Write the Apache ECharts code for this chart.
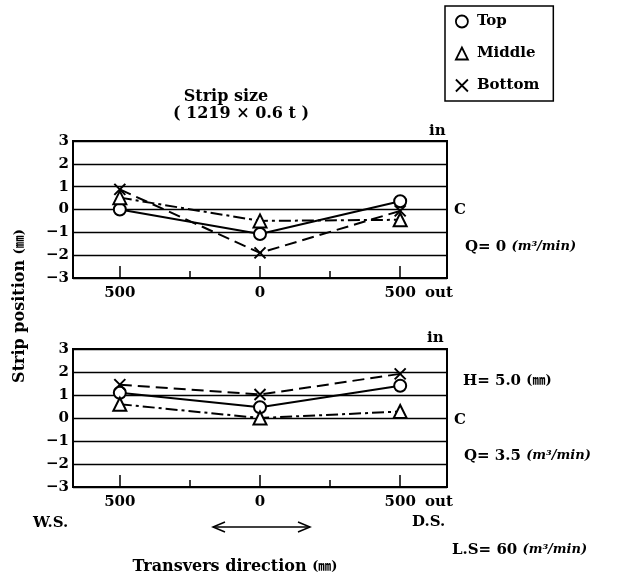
<!DOCTYPE html>
<html>
<head>
<meta charset="utf-8">
<script src="https://cdn.jsdelivr.net/npm/echarts@6/dist/echarts.min.js"></script>
<style>html,body{margin:0;padding:0;background:#fff;}#c{width:617px;height:576px;}</style>
</head>
<body>
<div id="c"></div>
<script>
// ---- data ----
const xPositions = [-500, 0, 500];          // transverse position (mm), W.S. negative
const xTickLabels = ['500', '0', '500'];
const minorTicks = [-250, 250];
const seriesNames = ['Top', 'Middle', 'Bottom'];
// Q = 0 (upper panel)
const topQ0 = [0.0, -1.07, 0.36];
const middleQ0 = [0.52, -0.5, -0.45];
const bottomQ0 = [0.88, -1.9, -0.06];
// Q = 3.5 (lower panel)
const topQ35 = [1.1, 0.47, 1.4];
const middleQ35 = [0.6, 0.0, 0.28];
const bottomQ35 = [1.45, 1.02, 1.92];

const FONT = '"DejaVu Serif", "Liberation Serif", serif';
const CJK = '"DejaVu Serif", "Noto Sans CJK JP", serif';
const crossPath = 'path://M0,0L10,10M10,0L0,10';

function pts(arr) { return xPositions.map((x, i) => [x, arr[i]]); }

const grids = [
  {left: 73, top: 141, width: 374, height: 137},
  {left: 73, top: 349, width: 374, height: 138}
];

const xAxes = [];
const yAxes = [];
grids.forEach((g, gi) => {
  xAxes.push({
    type: 'value', gridIndex: gi, min: -667, max: 667, position: 'bottom',
    axisLine: {show: false, onZero: false}, splitLine: {show: false},
    axisTick: {show: true, inside: true, length: 12, customValues: xPositions, lineStyle: {color: '#000', width: 1.5}},
    axisLabel: {show: true, customValues: xPositions, margin: 8, color: '#000',
      fontFamily: FONT, fontWeight: 'bold', fontSize: 15,
      formatter: function (v) { const i = xPositions.indexOf(v); return i >= 0 ? xTickLabels[i] : ''; }}
  });
  xAxes.push({
    type: 'value', gridIndex: gi, min: -667, max: 667, position: 'bottom',
    axisLine: {show: false, onZero: false}, splitLine: {show: false},
    axisTick: {show: true, inside: true, length: 7, customValues: minorTicks, lineStyle: {color: '#000', width: 1.5}},
    axisLabel: {show: false}
  });
  yAxes.push({
    type: 'value', gridIndex: gi, min: -3, max: 3, interval: 1,
    axisLine: {show: false, onZero: false}, axisTick: {show: false},
    splitLine: {show: true, lineStyle: {color: '#000', width: 1.3}},
    axisLabel: {margin: 4, color: '#000', fontFamily: FONT, fontWeight: 'bold', fontSize: 15,
      formatter: function (v) { return v < 0 ? '\u2212' + Math.abs(v) : String(v); }}
  });
});

function makeSeries(gi, data) {
  const styles = [
    {symbol: 'circle', lineType: 'solid'},
    {symbol: 'triangle', lineType: [12, 4, 3, 4]},
    {symbol: crossPath, lineType: [12, 6]}
  ];
  return data.map((arr, k) => ({
    name: seriesNames[k], type: 'line',
    xAxisIndex: gi * 2, yAxisIndex: gi,
    data: pts(arr),
    symbol: styles[k].symbol,
    symbolSize: k === 2 ? 11 : (k === 1 ? 13 : 12),
    showSymbol: true,
    lineStyle: {color: '#000', width: 2, type: styles[k].lineType},
    itemStyle: {color: k === 2 ? 'rgba(0,0,0,0)' : '#fff', borderColor: '#000', borderWidth: 2},
    z: 3 + k,
    animation: false
  }));
}

const series = [].concat(
  makeSeries(0, [topQ0, middleQ0, bottomQ0]),
  makeSeries(1, [topQ35, middleQ35, bottomQ35])
);

function txt(x, y, text, opts) {
  opts = opts || {};
  return {
    type: 'text', x: x, y: y, rotation: opts.rotation || 0, z: 10,
    style: {
      text: text, fill: '#000',
      font: opts.font || ('bold 15px ' + FONT),
      textAlign: opts.align || 'left', textVerticalAlign: 'middle'
    }
  };
}

const richUnits = {
  b: {fontFamily: FONT, fontWeight: 'bold', fontSize: 15, fill: '#000'},
  t: {fontFamily: FONT, fontWeight: 'bold', fontSize: 16, fill: '#000'},
  i: {fontFamily: FONT, fontWeight: 'bold', fontStyle: 'italic', fontSize: 13, fill: '#000'},
  u: {fontFamily: CJK, fontWeight: 'bold', fontSize: 13, fill: '#000'}
};

const graphics = [
  txt(226, 97, 'Strip size', {align: 'center', font: 'bold 16px ' + FONT}),
  txt(241, 114, '( 1219 \u00d7 0.6 t )', {align: 'center', font: 'bold 16px ' + FONT}),
  txt(429, 131, 'in'),
  txt(425, 293, 'out'),
  txt(427, 338, 'in'),
  txt(425, 502, 'out'),
  txt(454, 210, 'C'),
  txt(454, 420, 'C'),
  {type: 'text', x: 465, y: 247, z: 10, style: {text: '{b|Q= 0 }{i|(m\u00b3/min)}', textVerticalAlign: 'middle', rich: richUnits}},
  {type: 'text', x: 463, y: 381, z: 10, style: {text: '{b|H= 5.0 }{u|(\u339c)}', textVerticalAlign: 'middle', rich: richUnits}},
  {type: 'text', x: 464, y: 456, z: 10, style: {text: '{b|Q= 3.5 }{i|(m\u00b3/min)}', textVerticalAlign: 'middle', rich: richUnits}},
  {type: 'text', x: 452, y: 550, z: 10, style: {text: '{b|L.S= 60 }{i|(m\u00b3/min)}', textVerticalAlign: 'middle', rich: richUnits}},
  txt(33, 523, 'W.S.'),
  txt(412, 522, 'D.S.'),
  {type: 'text', x: 235, y: 567, z: 10, style: {text: '{t|Transvers direction }{u|(\u339c)}', textAlign: 'center', textVerticalAlign: 'middle', rich: richUnits}},
  {type: 'text', x: 20, y: 306, rotation: Math.PI / 2, z: 10, style: {text: '{t|Strip position }{u|(\u339c)}', textAlign: 'center', textVerticalAlign: 'middle', rich: richUnits}},
  // double-headed arrow
  {type: 'line', z: 10, shape: {x1: 213, y1: 527, x2: 310, y2: 527}, style: {stroke: '#000', lineWidth: 1.5}},
  {type: 'polyline', z: 10, shape: {points: [[225, 522], [213, 527], [225, 532]]}, style: {stroke: '#000', lineWidth: 1.5, fill: null}},
  {type: 'polyline', z: 10, shape: {points: [[298, 522], [310, 527], [298, 532]]}, style: {stroke: '#000', lineWidth: 1.5, fill: null}}
];

const chart = echarts.init(document.getElementById('c'), null, {renderer: 'canvas'});
chart.setOption({
  backgroundColor: '#fff',
  animation: false,
  grid: grids.map(g => Object.assign({show: true, borderColor: '#000', borderWidth: 2, backgroundColor: 'transparent'}, g)),
  xAxis: xAxes,
  yAxis: yAxes,
  legend: {
    orient: 'vertical', left: 445, top: 6, itemGap: 17,
    padding: [8, 14, 8, 10],
    borderColor: '#000', borderWidth: 1.5,
    itemWidth: 12, itemHeight: 12,
    selectedMode: false,
    textStyle: {color: '#000', fontFamily: FONT, fontWeight: 'bold', fontSize: 15, padding: [0, 0, 0, 4]},
    itemStyle: {borderColor: '#000', borderWidth: 1.8, color: 'rgba(0,0,0,0)'},
    data: [
      {name: 'Top', icon: 'circle'},
      {name: 'Middle', icon: 'triangle'},
      {name: 'Bottom', icon: crossPath}
    ]
  },
  series: series,
  graphic: graphics
});
</script>
</body>
</html>
